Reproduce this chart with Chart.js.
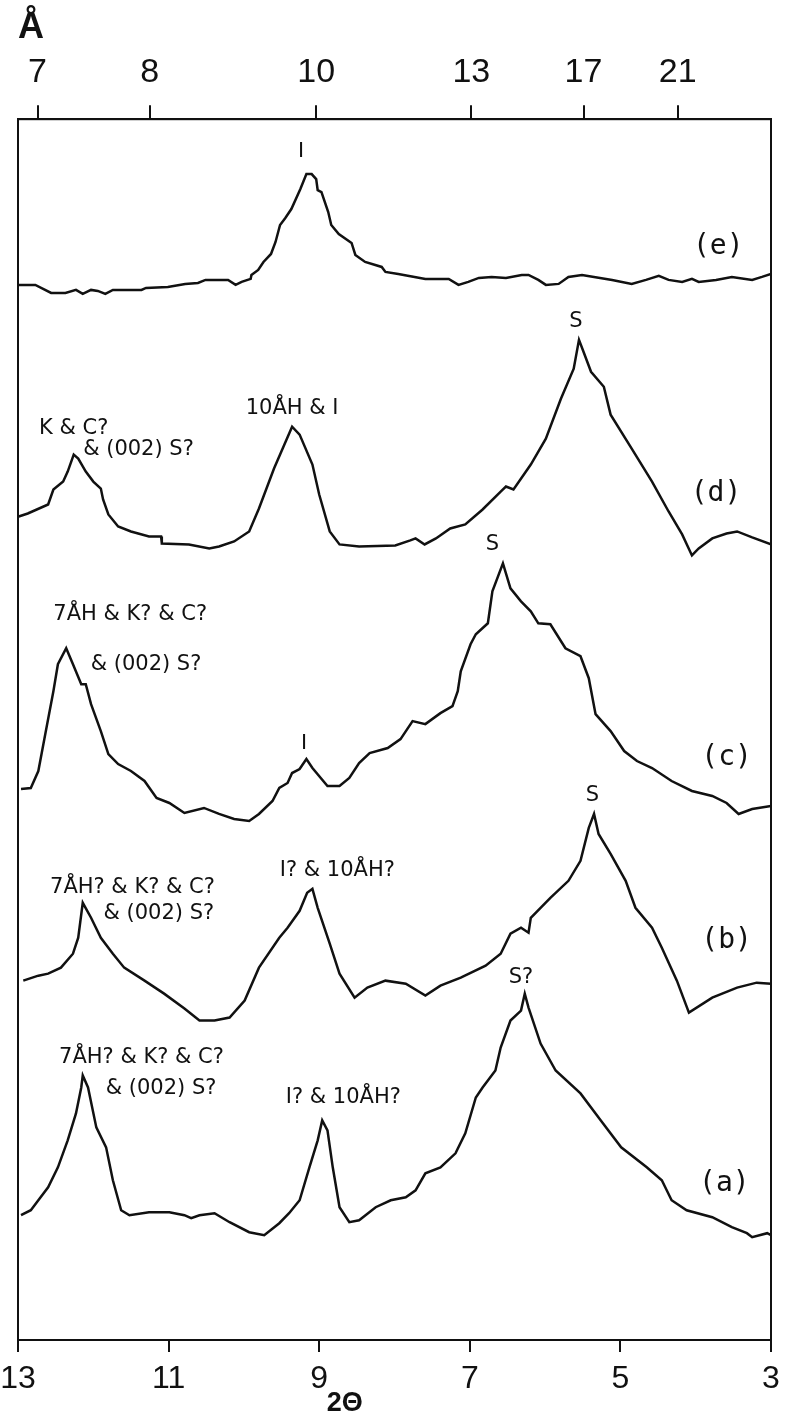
<!DOCTYPE html>
<html>
<head>
<meta charset="utf-8">
<script src="https://cdn.jsdelivr.net/npm/chart.js@4.4.1/dist/chart.umd.min.js"></script>
<style>
  html, body { margin: 0; padding: 0; background: #fff; }
  #wrap { width: 787px; height: 1418px; position: relative; }
</style>
</head>
<body>
<div id="wrap"><canvas id="xrd"></canvas></div>
<script>
// 2-theta (deg) and offset intensity
var thetaE = [13.00,12.77,12.56,12.37,12.23,12.14,12.03,11.94,11.84,11.74,11.36,11.30,11.01,10.78,10.61,10.51,10.21,10.11,10.03,9.91,9.90,9.81,9.74,9.64,9.58,9.52,9.45,9.37,9.25,9.17,9.10,9.04,9.02,8.97,8.88,8.84,8.74,8.57,8.52,8.39,8.17,8.12,7.95,7.59,7.28,7.15,7.02,6.88,6.71,6.52,6.31,6.22,6.09,5.99,5.82,5.69,5.51,5.11,4.85,4.66,4.49,4.36,4.18,4.05,3.96,3.73,3.52,3.25,3.12,3.00];
var countsE = [1057,1057,1049,1049,1052,1048,1052,1051,1048,1052,1052,1054,1055,1058,1059,1062,1062,1057,1060,1063,1067,1072,1080,1088,1100,1117,1124,1133,1153,1168,1168,1163,1152,1150,1130,1117,1108,1099,1087,1080,1075,1070,1068,1063,1063,1057,1060,1064,1065,1064,1067,1067,1062,1057,1058,1065,1067,1062,1058,1062,1066,1062,1060,1063,1060,1062,1065,1062,1065,1068];

var thetaD = [12.99,12.87,12.60,12.53,12.40,12.34,12.26,12.20,12.10,12.00,11.90,11.87,11.80,11.67,11.50,11.26,11.10,11.09,10.73,10.46,10.33,10.13,9.93,9.80,9.60,9.36,9.26,9.09,9.00,8.86,8.73,8.47,7.99,7.79,7.72,7.60,7.45,7.26,7.06,6.83,6.59,6.52,6.42,6.19,5.99,5.79,5.62,5.55,5.49,5.39,5.22,5.13,4.85,4.58,4.36,4.18,4.05,3.96,3.78,3.59,3.45,3.25,3.00];
var countsD = [825,828,837,852,860,870,887,883,870,860,853,842,827,815,810,805,805,798,797,793,795,800,810,833,873,915,907,877,847,810,797,795,796,801,803,797,803,813,817,832,850,855,852,877,903,943,973,1002,990,970,955,927,893,860,830,807,786,793,803,808,810,804,797];

var thetaC = [12.96,12.83,12.73,12.63,12.53,12.47,12.36,12.27,12.16,12.10,12.03,11.90,11.80,11.67,11.50,11.32,11.16,10.99,10.79,10.53,10.33,10.13,9.93,9.80,9.62,9.53,9.42,9.36,9.26,9.17,9.09,8.89,8.73,8.60,8.47,8.33,8.09,7.92,7.76,7.59,7.39,7.23,7.16,7.12,6.99,6.92,6.76,6.70,6.56,6.46,6.32,6.19,6.09,5.93,5.73,5.53,5.42,5.33,5.13,4.95,4.78,4.58,4.32,4.05,3.78,3.59,3.43,3.25,3.00];
var countsC = [552,553,570,610,650,677,693,677,657,657,637,610,587,577,570,560,543,538,528,533,527,522,520,527,540,553,558,568,572,582,573,555,555,563,578,588,593,602,620,617,628,635,650,670,697,707,718,750,778,753,740,730,718,717,693,685,663,627,610,590,580,573,560,550,545,538,527,532,535];

var thetaB = [12.93,12.73,12.60,12.43,12.27,12.20,12.14,12.03,11.90,11.74,11.59,11.32,11.06,10.79,10.59,10.39,10.19,9.99,9.80,9.53,9.42,9.26,9.16,9.09,9.02,8.86,8.73,8.53,8.36,8.12,7.85,7.59,7.39,7.12,6.79,6.59,6.46,6.32,6.22,6.19,5.93,5.69,5.53,5.42,5.35,5.29,5.13,4.93,4.80,4.58,4.45,4.25,4.09,3.78,3.45,3.19,3.00];
var countsB = [360,365,367,373,387,403,438,423,403,387,373,360,347,332,320,320,323,340,373,403,413,430,448,452,433,397,367,343,353,360,357,345,355,363,375,387,407,413,408,423,443,460,480,513,527,507,487,460,433,413,393,360,328,343,353,358,357];

var thetaA = [12.96,12.83,12.73,12.60,12.47,12.34,12.23,12.16,12.14,12.07,11.96,11.83,11.74,11.63,11.52,11.26,10.99,10.79,10.70,10.59,10.39,10.19,9.93,9.73,9.53,9.40,9.26,9.13,9.02,8.96,8.89,8.82,8.73,8.60,8.47,8.25,8.05,7.85,7.72,7.59,7.39,7.19,7.06,6.92,6.83,6.66,6.59,6.46,6.32,6.27,6.22,6.06,5.86,5.53,5.26,4.99,4.65,4.45,4.32,4.12,3.78,3.52,3.32,3.25,3.05,3.00];
var countsA = [125,130,140,153,173,200,227,253,265,253,213,193,160,130,125,128,128,125,122,125,127,118,108,105,117,127,140,173,200,220,210,173,133,118,120,133,140,143,150,167,173,187,207,243,253,270,293,320,330,347,333,297,270,247,220,193,173,160,140,130,123,113,107,103,107,105];

// axis ticks
var bottomTicks = [13, 11, 9, 7, 5, 3];
var topTickTheta = [12.74, 11.25, 9.04, 6.98, 5.49, 4.24];
var topTickLabels = ['7', '8', '10', '13', '17', '21'];

// peak annotations
var noteText = ['I', '(e)',
  'S', '10ÅH & I', 'K & C?', '& (002) S?', '(d)',
  '7ÅH & K? & C?', '& (002) S?', 'S', 'I', '(c)',
  'S', 'I? & 10ÅH?', '7ÅH? & K? & C?', '& (002) S?', '(b)',
  'S?', '7ÅH? & K? & C?', '& (002) S?', 'I? & 10ÅH?', '(a)'];
var noteTheta = [9.24, 3.70,
  5.59, 9.36, 12.26, 11.40, 3.73,
  11.51, 11.30, 6.70, 9.20, 3.59,
  5.37, 8.76, 11.48, 11.13, 3.59,
  6.32, 11.36, 11.10, 8.68, 3.62];
var noteLevel = [1191, 1095,
  1020, 933, 913, 892, 848,
  727, 677, 797, 598, 583,
  545, 470, 453, 427, 400,
  363, 283, 252, 243, 157];

var ink = '#111';
var sans = "'Liberation Sans', Arial, sans-serif";

function series(th, ct) {
  return th.map(function (t, i) { return { x: t, y: ct[i] }; });
}

var notesPlugin = {
  id: 'notes',
  afterDatasetsDraw: function (chart) {
    var ctx = chart.ctx;
    var a = chart.chartArea;
    var xs = chart.scales.x, ys = chart.scales.y;
    ctx.save();
    ctx.strokeStyle = ink;
    ctx.lineWidth = 2;
    ctx.strokeRect(a.left, a.top, a.right - a.left, a.bottom - a.top);
    ctx.fillStyle = ink;
    ctx.textAlign = 'center';
    ctx.textBaseline = 'middle';
    noteText.forEach(function (t, i) {
      if (t.charAt(0) === '(' && t.length === 3) {
        ctx.font = "28px 'DejaVu Sans Mono', monospace";
      } else if (t === 'I') {
        ctx.font = '22px ' + sans;
      } else {
        ctx.font = "21px 'DejaVu Sans', sans-serif";
      }
      ctx.fillText(t, xs.getPixelForValue(noteTheta[i]), ys.getPixelForValue(noteLevel[i]));
    });
    ctx.font = 'bold 27px ' + sans;
    ctx.fillText('2Θ', xs.getPixelForValue(8.66), a.bottom + 64);
    ctx.restore();
  }
};

function trace(th, ct) {
  return {
    data: series(th, ct),
    borderColor: ink,
    borderWidth: 2.5,
    pointRadius: 0,
    tension: 0,
    fill: false
  };
}

// keep edge tick labels from pushing the frame inwards
function noOverhang(axis, h) {
  axis.height = h;
  axis.paddingLeft = 0;
  axis.paddingRight = 0;
}

new Chart(document.getElementById('xrd'), {
  type: 'line',
  data: {
    datasets: [
      trace(thetaE, countsE),
      trace(thetaD, countsD),
      trace(thetaC, countsC),
      trace(thetaB, countsB),
      trace(thetaA, countsA)
    ]
  },
  options: {
    responsive: true,
    maintainAspectRatio: false,
    animation: false,
    layout: { padding: { left: 18, right: 16, top: 0, bottom: 0 } },
    plugins: {
      legend: { display: false },
      tooltip: { enabled: false },
      title: {
        display: true,
        text: 'Å',
        align: 'start',
        color: ink,
        font: { size: 36, weight: 'bold', family: sans },
        padding: { top: 6, bottom: 0 }
      }
    },
    scales: {
      x: {
        type: 'linear',
        position: 'bottom',
        min: 3, max: 13,
        reverse: true,
        afterBuildTicks: function (axis) {
          axis.ticks = bottomTicks.map(function (v) { return { value: v }; });
        },
        afterFit: function (axis) { noOverhang(axis, 78); },
        ticks: { color: ink, padding: 8, font: { size: 32, family: sans }, autoSkip: false, maxRotation: 0 },
        grid: { drawOnChartArea: false, tickLength: 12, color: ink, lineWidth: 2 },
        border: { display: true, color: ink, width: 2 }
      },
      xTop: {
        type: 'linear',
        position: 'top',
        min: 3, max: 13,
        reverse: true,
        afterBuildTicks: function (axis) {
          axis.ticks = topTickTheta.map(function (v) { return { value: v }; });
        },
        afterFit: function (axis) { noOverhang(axis, 70); },
        ticks: {
          color: ink, padding: 12, autoSkip: false, maxRotation: 0,
          font: { size: 34, family: sans },
          callback: function (v, i) { return topTickLabels[i]; }
        },
        grid: { drawOnChartArea: false, tickLength: 14, color: ink, lineWidth: 2 },
        border: { display: true, color: ink, width: 2 }
      },
      y: {
        display: false,
        min: 0, max: 1223
      }
    }
  },
  plugins: [notesPlugin]
});
</script>
</body>
</html>
